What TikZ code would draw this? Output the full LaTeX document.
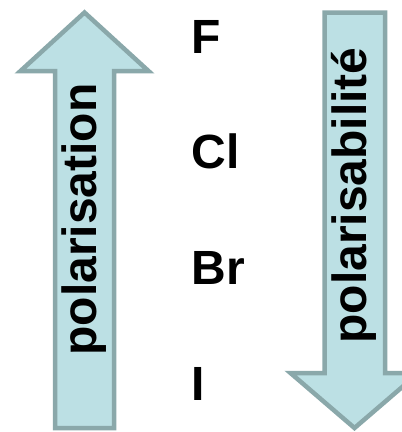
\documentclass[tikz,border=0pt]{standalone}
\usepackage{fontspec}
\setmainfont{Liberation Sans}
\definecolor{arrowfill}{RGB}{188,224,228}
\definecolor{arrowedge}{RGB}{138,168,170}
\begin{document}
\begin{tikzpicture}[x=1pt,y=-1pt,
  bigarrow/.style={fill=arrowfill,draw=arrowedge,line width=4.5pt,line join=miter},
  elem/.style={anchor=base west,inner sep=0pt,font=\fontsize{48}{48}\selectfont\bfseries},
  trend/.style={anchor=base,inner sep=0pt,rotate=90,font=\fontsize{48}{48}\selectfont\bfseries}]
  \useasboundingbox (0,0) rectangle (402,432);
  \clip (0,0) rectangle (402,432);
  % upward arrow
  \draw[bigarrow] (55,428) -- (55,71) -- (20.5,71) -- (84.5,12.5) -- (148.5,71) -- (114,71) -- (114,428) -- cycle;
  % downward arrow
  \draw[bigarrow] (324.5,12.5) -- (324.5,373) -- (290.5,373) -- (354.5,428) -- (418.5,373) -- (385,373) -- (385,12.5) -- cycle;
  % labels along the arrows
  \node[trend] (polarisation) at (96.5,219.5) {polarisation};
  \node[trend] (polarisabilite) at (366.5,195.5) {polarisabilité};
  % halogens
  \node[elem] (F) at (191.5,53) {F};
  \node[elem] (Cl) at (191.5,168) {Cl};
  \node[elem] (Br) at (191.5,284) {Br};
  \node[elem] (I) at (191.5,400) {I};
\end{tikzpicture}
\end{document}
